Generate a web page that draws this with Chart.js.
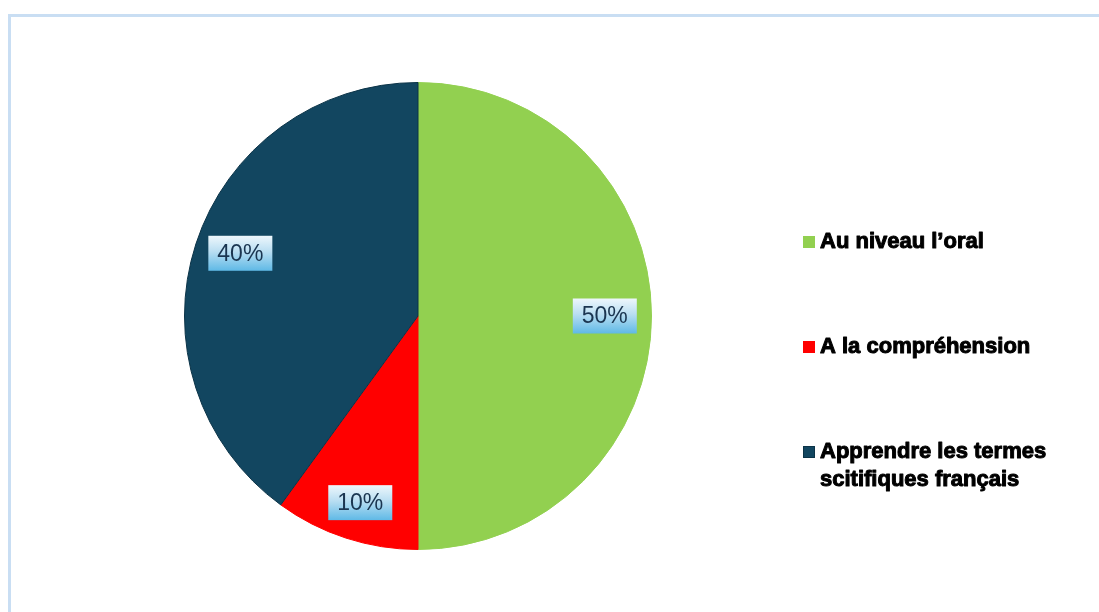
<!DOCTYPE html>
<html>
<head>
<meta charset="utf-8">
<script src="https://cdn.jsdelivr.net/npm/chart.js@4/dist/chart.umd.min.js"></script>
<style>
  html, body { margin: 0; padding: 0; background: #fff; }
  #wrap { width: 1099px; height: 612px; position: relative; }
</style>
</head>
<body>
<div id="wrap"><canvas id="pieChart" width="1099" height="612"></canvas></div>
<script>
// data
const categories = ['Au niveau l\u2019oral', 'A la compr\u00e9hension', 'Apprendre les termes scitifiques fran\u00e7ais'];
const legendLines = [['Au niveau l\u2019oral'], ['A la compr\u00e9hension'], ['Apprendre les termes', 'scitifiques fran\u00e7ais']];
const values = [50, 10, 40];
const sliceColors = ['#92d050', '#ff0000', '#124660'];
const sliceBorders = ['#92d050', '#ff0000', '#0b3347'];

const ctx = document.getElementById('pieChart');

// plugin: outer frame (top + left light blue lines)
const frame = {
  id: 'frame',
  beforeDraw(chart) {
    const { ctx } = chart;
    ctx.save();
    ctx.strokeStyle = '#c9def3';
    ctx.lineWidth = 3;
    ctx.beginPath();
    ctx.moveTo(1099, 15.5);
    ctx.lineTo(9.5, 15.5);
    ctx.lineTo(9.5, 612);
    ctx.stroke();
    ctx.restore();
  }
};

// plugin: percentage boxes on each slice
const sliceLabels = {
  id: 'sliceLabels',
  afterDatasetDraw(chart) {
    const { ctx } = chart;
    const meta = chart.getDatasetMeta(0);
    const total = values.reduce((a, b) => a + b, 0);
    const nudge = [0, 9, -5]; // excel puts them slightly off the 80% radius
    ctx.save();
    ctx.font = '23px "Liberation Sans", Arial, sans-serif';
    ctx.textAlign = 'center';
    ctx.textBaseline = 'middle';
    meta.data.forEach((arc, i) => {
      const mid = (arc.startAngle + arc.endAngle) / 2;
      const r = arc.outerRadius * 0.8;
      const x = arc.x + Math.cos(mid) * r;
      const y = arc.y + Math.sin(mid) * r + nudge[i];
      const txt = Math.round(values[i] / total * 100) + '%';
      const w = 64, h = 35;
      const g = ctx.createLinearGradient(0, y - h / 2, 0, y + h / 2);
      g.addColorStop(0, '#eef7fc');
      g.addColorStop(0.45, '#b9def2');
      g.addColorStop(1, '#5fb9e6');
      ctx.fillStyle = g;
      ctx.fillRect(x - w / 2, y - h / 2, w, h);
      ctx.fillStyle = '#1a3550';
      ctx.fillText(txt, x, y + 1);
    });
    ctx.restore();
  }
};

// plugin: legend on the right
const sideLegend = {
  id: 'sideLegend',
  afterDraw(chart) {
    const { ctx } = chart;
    ctx.save();
    ctx.font = 'bold 22px "Liberation Sans", Arial, sans-serif';
    ctx.textBaseline = 'middle';
    ctx.textAlign = 'left';
    ctx.lineJoin = 'round';
    const x0 = 803, ys = [242, 347, 452];
    legendLines.forEach((lines, i) => {
      ctx.fillStyle = sliceColors[i];
      ctx.fillRect(x0, ys[i] - 6, 12, 12);
      if (i === 2) {
        ctx.strokeStyle = '#0b3347';
        ctx.lineWidth = 1;
        ctx.strokeRect(x0 + 0.5, ys[i] - 5.5, 11, 11);
      }
      ctx.fillStyle = '#000';
      ctx.strokeStyle = '#000';
      ctx.lineWidth = 1;
      lines.forEach((ln, j) => {
        ctx.fillText(ln, 820, ys[i] + j * 28);
        ctx.strokeText(ln, 820, ys[i] + j * 28);
      });
    });
    ctx.restore();
  }
};

new Chart(ctx, {
  type: 'pie',
  data: {
    labels: categories,
    datasets: [{
      data: values,
      backgroundColor: sliceColors,
      borderColor: sliceBorders,
      borderWidth: 1
    }]
  },
  options: {
    responsive: false,
    animation: false,
    layout: { padding: { left: 184, right: 447, top: 82, bottom: 62 } },
    plugins: {
      legend: { display: false },
      tooltip: { enabled: false }
    }
  },
  plugins: [frame, sliceLabels, sideLegend]
});
</script>
</body>
</html>
